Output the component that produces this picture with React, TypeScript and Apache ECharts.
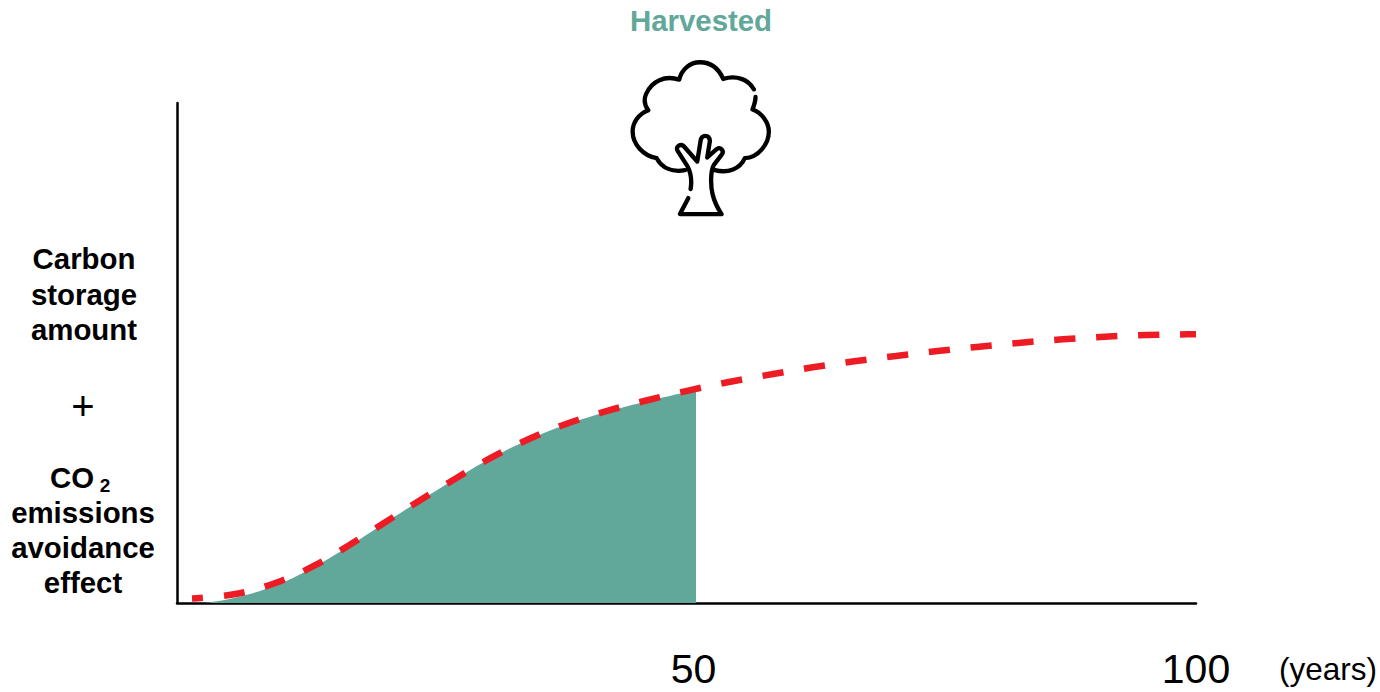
import React, { useEffect, useRef } from "react";
import * as echarts from "echarts";

// Cumulative effect over stand age, in years and percent of axis height.
const curveYears = [-0.4, 3.8, 7.8, 11.63, 15.23, 18.8, 22.33, 25.93, 29.53, 33.3, 37.2, 41.2, 45.23, 49.33, 53.43, 57.57, 61.67, 65.83, 70, 74.17, 78.33, 82.5, 86.67, 90.87, 95.07, 99.13, 100];
const curveValues = [0.9, 1.74, 3.9, 7.26, 11.46, 16, 20.46, 24.86, 29.06, 32.8, 35.94, 38.46, 40.6, 42.54, 44.26, 45.74, 47.14, 48.34, 49.4, 50.4, 51.26, 52.06, 52.74, 53.26, 53.6, 53.74, 53.76];
const areaYears = [0.9, 3.8, 7.8, 11.63, 15.23, 18.8, 22.33, 25.93, 29.53, 33.3, 37.2, 41.2, 45.23, 50];
const areaValues = [0, 1.0, 3.4, 7.0, 11.3, 15.9, 20.4, 24.8, 29.0, 32.7, 35.8, 38.3, 40.4, 42.6];
const tickYears = [50, 100];
const upperLabels = ["Carbon", "storage", "amount"];
const lowerLabels = ["emissions", "avoidance", "effect"];

const GREEN = "#61A89A";
const RED = "#ED1C24";
const FONT = '"Liberation Sans", Arial, sans-serif';

const crownLeft =
  "M432 265 C415 235 380 222 340 234 C325 200 300 184 270 184 C240 184 215 205 208 236 C165 222 125 240 108 280 C100 300 105 315 115 328 C85 340 68 365 68 392 C68 430 100 465 140 472 C155 500 185 515 225 508";
const crownRight =
  "M437 288 C437 300 432 315 428 326 C455 335 477 365 477 392 C477 430 445 470 405 472 C390 505 355 518 315 508";
const trunk =
  "M242 565 C248 530 240 510 232 495 L203 450 C195 435 215 425 225 440 L262 482 L272 420 C275 400 298 400 300 420 L292 470 L320 445 C330 435 345 450 335 462 L312 492 C300 515 303 560 308 580 C315 610 325 625 335 640 L210 640 L235 592";

echarts.graphic.registerShape(
  "treeIcon",
  (echarts.graphic as any).extendPath(`${crownLeft} ${crownRight} ${trunk}`, {})
);

const boldLabel = (text: string, x: number, y: number, fontSize = 29.4, fill = "#000") => ({
  type: "text",
  x,
  y,
  style: { text, fill, font: `bold ${fontSize}px ${FONT}`, align: "center", verticalAlign: "middle" },
});

export default function App() {
  const ref = useRef<HTMLDivElement>(null);

  useEffect(() => {
    const chart = echarts.init(ref.current!, undefined, { renderer: "svg" });
    chart.setOption({
      animation: false,
      backgroundColor: "#fff",
      grid: { left: 177, top: 103, width: 1019, height: 500 },
      xAxis: {
        type: "value",
        min: -1.9,
        max: 100,
        splitLine: { show: false },
        axisTick: { show: false },
        axisLine: { show: true, onZero: false, lineStyle: { color: "#000", width: 2.5 } },
        axisLabel: {
          customValues: tickYears,
          color: "#000",
          fontSize: 41,
          fontFamily: FONT,
          margin: 45,
          showMinLabel: true,
          showMaxLabel: true,
          // the mid-span label sits a little left of its tick
          formatter: (v: number) => (v === 50 ? `{mid|${v}}` : `${v}`),
          rich: {
            mid: { fontSize: 41, fontFamily: FONT, color: "#000", padding: [0, 5, 0, 0] },
          },
        },
      },
      yAxis: {
        type: "value",
        min: 0,
        max: 100,
        splitLine: { show: false },
        axisTick: { show: false },
        axisLabel: { show: false },
        axisLine: { show: true, onZero: false, lineStyle: { color: "#000", width: 2.5 } },
      },
      series: [
        {
          type: "line",
          smooth: 0.4,
          symbol: "none",
          data: areaYears.map((y, i) => [y, areaValues[i]]),
          lineStyle: { width: 0, opacity: 0 },
          areaStyle: { color: GREEN, opacity: 1 },
          z: 1,
        },
        {
          type: "line",
          smooth: 0.4,
          symbol: "none",
          data: curveYears.map((y, i) => [y, curveValues[i]]),
          lineStyle: { color: RED, width: 6.5, type: [21, 21], dashOffset: 10, cap: "butt" },
          z: 2,
        },
      ],
      graphic: [
        boldLabel("Harvested", 701, 20, 29.4, GREEN),
        {
          type: "treeIcon",
          x: 610,
          y: 1,
          scaleX: 1 / 3,
          scaleY: 1 / 3,
          style: { fill: "none", stroke: "#000", lineWidth: 13, lineCap: "round", lineJoin: "round" },
        },
        ...upperLabels.map((t, i) => boldLabel(t, 84, [258, 294, 329][i])),
        {
          type: "text",
          x: 83,
          y: 406,
          style: { text: "+", fill: "#000", font: `40px ${FONT}`, align: "center", verticalAlign: "middle" },
        },
        boldLabel("CO", 72, 477),
        boldLabel("2", 105, 485, 19),
        ...lowerLabels.map((t, i) => boldLabel(t, 83, [512, 547, 582][i])),
        {
          type: "text",
          x: 1279,
          y: 669,
          style: { text: "(years)", fill: "#000", font: `31.5px ${FONT}`, align: "left", verticalAlign: "middle" },
        },
      ],
    });
    return () => chart.dispose();
  }, []);

  return <div ref={ref} style={{ position: "fixed", left: 0, top: 0, width: 1380, height: 692 }} />;
}
